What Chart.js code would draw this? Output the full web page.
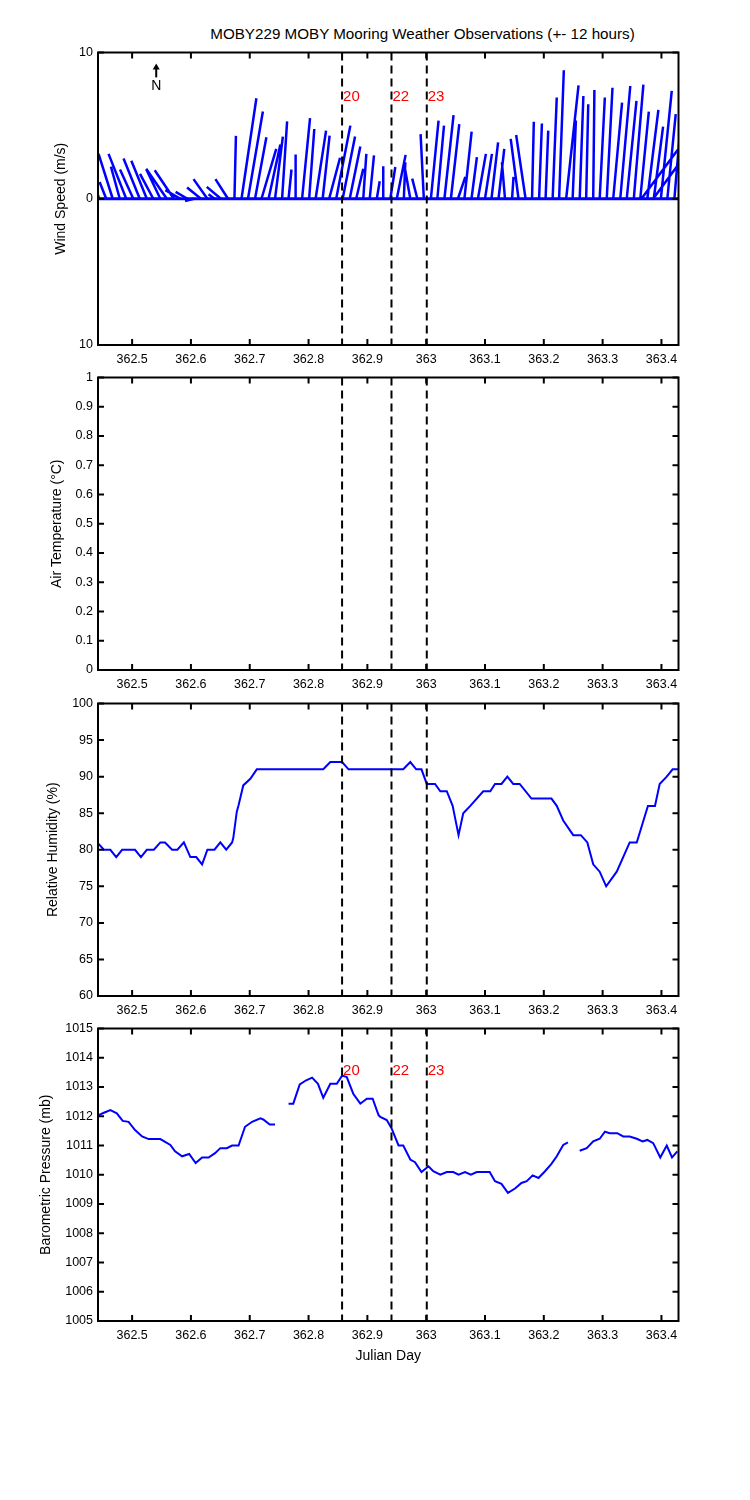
<!DOCTYPE html>
<html>
<head>
<meta charset="utf-8">
<title>MOBY229 MOBY Mooring Weather Observations</title>
<script src="https://cdn.jsdelivr.net/npm/chart.js@4.4.1/dist/chart.umd.min.js"></script>
<style>
  html, body { margin:0; padding:0; background:#ffffff; }
  body { width:750px; height:1500px; position:relative; overflow:hidden; }
  canvas { position:absolute; left:0; }
  #title { position:absolute; left:0; top:25px; width:845px; text-align:center;
           font-family:"Liberation Sans", Arial, sans-serif; font-size:15.2px; line-height:18px;
           color:#000; white-space:nowrap; }
</style>
</head>
<body>
<div id="title">MOBY229 MOBY Mooring Weather Observations (+- 12 hours)</div>
<canvas id="wind"></canvas>
<canvas id="air"></canvas>
<canvas id="rh"></canvas>
<canvas id="press"></canvas>
<script>
// ---------------- data ----------------
const xMin = 362.442;
const xMax = 363.429;
const xTickStep = 0.1;

const markerTimes  = [362.857, 362.941, 363.001];
const markerLabels = ['20', '22', '23'];

// wind sticks: time (Julian day), east (u) and north (v) components, m/s
const windTime = [
  362.444, 362.456, 362.467, 362.479, 362.490, 362.502, 362.513, 362.525, 362.536, 362.548,
  362.559, 362.571, 362.582, 362.594, 362.605, 362.617, 362.628, 362.640, 362.651, 362.663,
  362.674, 362.686, 362.697, 362.709, 362.720, 362.732, 362.743, 362.755, 362.766, 362.778,
  362.789, 362.801, 362.812, 362.824, 362.835, 362.847, 362.858, 362.870, 362.881, 362.893,
  362.904, 362.916, 362.927, 362.939, 362.950, 362.962, 362.973, 362.985, 362.996, 363.008,
  363.019, 363.031, 363.042, 363.054, 363.065, 363.077, 363.088, 363.100, 363.111, 363.123,
  363.134, 363.146, 363.157, 363.169, 363.180, 363.192, 363.203, 363.215, 363.226, 363.238,
  363.249, 363.261, 363.272, 363.284, 363.295, 363.307, 363.318, 363.330, 363.341, 363.353,
  363.364, 363.366, 363.376, 363.386, 363.387, 363.399, 363.410, 363.422
];
const windU = [
  -0.8, -0.45, -0.96, -0.6, -1.2, -0.9, -1.1, -1.05, -0.9, -0.95,
  -1.4, -1.3, -1.02, -0.8, -0.6, -0.94, -0.94, -0.4, -0.96, -0.85,
  0.1, 1.01, 1.01, 0.77, 1.0, 0.8, 0.53, 0.34, 0.2, 0.0,
  0.54, 0.35, 0.71, 0.47, 0.74, 0.96, 0.84, 0.72, 0.48, 0.21,
  0.29, 0.2, 0.0, 0.34, 0.6, 0.1, -0.36, -0.35, -0.22, 0.52,
  0.45, 0.62, 0.57, 0.5, 0.49, 0.37, 0.54, 0.47, 0.45, 0.39,
  -0.21, 0.1, -0.53, -0.64, 0.12, 0.19, 0.18, 0.28, 0.32, 0.84,
  0.22, 0.25, 0.14, 0.08, 0.35, 0.39, 0.6, 0.68, 0.66, 0.65,
  0.58, 2.48, 0.75, 1.9, 0.63, 0.74, 0.57, 0.35
];
const windV = [
  2.4, 1.15, 3.07, 2.2, 3.07, 2.0, 2.75, 2.6, 1.7, 2.0,
  2.05, 1.95, 0.59, 0.47, -0.15, 0.77, 1.34, 0.3, 0.81, 1.34,
  4.3, 6.87, 5.97, 4.2, 3.41, 3.7, 4.25, 5.29, 2.0, 3.03,
  5.51, 4.77, 4.66, 4.32, 2.8, 5.0, 4.25, 3.57, 2.05, 3.07,
  2.96, 1.2, 2.22, 2.17, 3.0, 2.5, 2.05, 1.38, 4.42, 5.34,
  5.0, 5.72, 5.1, 1.5, 4.59, 2.85, 3.07, 3.07, 3.86, 3.41,
  2.5, 1.5, 4.09, 4.36, 5.27, 5.15, 4.66, 6.92, 8.79, 7.75,
  5.36, 7.03, 6.46, 7.44, 6.92, 7.59, 6.58, 7.71, 6.69, 7.8,
  5.95, 3.36, 6.08, 2.6, 4.93, 7.37, 5.78, 4.2
];

// air temperature: no observations in this window
const airTime  = [];
const airValue = [];

// relative humidity (%)
const rhTime = [
  362.443, 362.452, 362.463, 362.473, 362.483, 362.505, 362.515, 362.525, 362.537, 362.548,
  362.556, 362.568, 362.577, 362.588, 362.599, 362.609, 362.619, 362.628, 362.640, 362.650,
  362.660, 362.670, 362.672, 362.678, 362.681, 362.689, 362.701, 362.712, 362.825, 362.837,
  362.857, 362.868, 362.961, 362.973, 362.983, 362.992, 363.001, 363.015, 363.024, 363.035,
  363.045, 363.055, 363.063, 363.075, 363.097, 363.109, 363.117, 363.128, 363.138, 363.148,
  363.159, 363.179, 363.213, 363.222, 363.233, 363.250, 363.263, 363.274, 363.284, 363.295,
  363.306, 363.324, 363.346, 363.358, 363.377, 363.389, 363.397, 363.409, 363.419, 363.428
];
const rhValue = [
  80.8, 80, 80, 79, 80, 80, 79, 80, 80, 81,
  81, 80, 80, 81, 79, 79, 78, 80, 80, 81,
  80, 81, 81.6, 85.2, 86.1, 88.8, 89.7, 91, 91, 92,
  92, 91, 91, 92, 91, 91, 89, 89, 88, 88,
  86, 82, 85, 86, 88, 88, 89, 89, 90, 89,
  89, 87, 87, 86, 84, 82, 82, 81, 78, 77,
  75, 77, 81, 81, 86, 86, 89, 90, 91, 91
];

// barometric pressure (mb); null marks a data gap
const pressTime = [
  362.443, 362.452, 362.463, 362.474, 362.484, 362.494, 362.505, 362.517, 362.528, 362.548,
  362.565, 362.573, 362.585, 362.597, 362.608, 362.619, 362.630, 362.641, 362.650, 362.661,
  362.670, 362.681, 362.692, 362.704, 362.718, 362.723, 362.734, 362.743, 362.755, 362.766,
  362.774, 362.785, 362.796, 362.806, 362.816, 362.825, 362.837, 362.848, 362.857, 362.865,
  362.876, 362.888, 362.899, 362.909, 362.919, 362.922, 362.933, 362.941, 362.953, 362.961,
  362.973, 362.981, 362.992, 363.004, 363.012, 363.024, 363.035, 363.046, 363.055, 363.066,
  363.076, 363.086, 363.108, 363.117, 363.128, 363.139, 363.151, 363.162, 363.171, 363.181,
  363.191, 363.202, 363.213, 363.222, 363.233, 363.241, 363.251, 363.261, 363.273, 363.284,
  363.295, 363.304, 363.312, 363.325, 363.335, 363.346, 363.358, 363.368, 363.376, 363.386,
  363.398, 363.409, 363.418, 363.427
];
const pressValue = [
  1012.04, 1012.12, 1012.21, 1012.10, 1011.84, 1011.81, 1011.53, 1011.31, 1011.22, 1011.22,
  1011.02, 1010.80, 1010.63, 1010.71, 1010.40, 1010.59, 1010.59, 1010.74, 1010.91, 1010.91,
  1011.00, 1011.00, 1011.64, 1011.81, 1011.93, 1011.89, 1011.72, 1011.72, null, 1012.43,
  1012.43, 1013.09, 1013.23, 1013.32, 1013.11, 1012.63, 1013.11, 1013.11, 1013.39, 1013.34,
  1012.77, 1012.43, 1012.60, 1012.60, 1012.04, 1011.98, 1011.87, 1011.59, 1011.00, 1011.00,
  1010.52, 1010.43, 1010.09, 1010.29, 1010.12, 1010.00, 1010.09, 1010.09, 1010.00, 1010.09,
  1010.00, 1010.09, 1010.09, 1009.78, 1009.69, 1009.38, 1009.53, 1009.72, 1009.78, 1009.98,
  1009.89, 1010.12, 1010.37, 1010.63, 1011.02, 1011.11, null, 1010.82, 1010.91, 1011.14,
  1011.23, 1011.47, 1011.42, 1011.42, 1011.31, 1011.31, 1011.23, 1011.14, 1011.19, 1011.08,
  1010.59, 1011.00, 1010.59, 1010.80
];

// north arrow position (time, wind-speed units) and marker label heights
const northTime = 362.541, northTail = 8.3, northTip = 9.25, northLabel = 7.7;
const windMarkerLabelY = 7.0;
const pressMarkerLabelY = 1013.55;

// ---------------- drawing ----------------
const FONT = '"Liberation Sans", Arial, Helvetica, sans-serif';
Chart.defaults.font.family = FONT;
Chart.defaults.color = '#000';
const BLUE = '#0000ff';
// horizontal days per m/s so that sticks keep true direction on screen
const STICK_DAYS_PER_MS = 0.02506;

const fmt1 = v => String(Math.round(v * 10) / 10);

const framePlugin = {
  id: 'frame',
  afterDatasetsDraw(chart) {
    const { ctx, chartArea: a, scales } = chart;
    const xs = scales.x, ys = scales.y, L = 6;
    ctx.save();
    ctx.strokeStyle = '#000';
    ctx.lineWidth = 2;
    ctx.beginPath();
    xs.ticks.forEach(t => {
      const p = xs.getPixelForValue(t.value);
      ctx.moveTo(p, a.bottom); ctx.lineTo(p, a.bottom - L);
      ctx.moveTo(p, a.top); ctx.lineTo(p, a.top + L);
    });
    ys.ticks.forEach(t => {
      const p = ys.getPixelForValue(t.value);
      ctx.moveTo(a.left, p); ctx.lineTo(a.left + L, p);
      ctx.moveTo(a.right, p); ctx.lineTo(a.right - L, p);
    });
    ctx.stroke();
    ctx.strokeRect(a.left, a.top, a.right - a.left, a.bottom - a.top);
    ctx.restore();
  }
};

const markerTextPlugin = {
  id: 'markerText',
  afterDatasetsDraw(chart, args, opts) {
    if (!opts || opts.y == null) return;
    const { ctx, scales } = chart;
    ctx.save();
    ctx.fillStyle = '#ff0000';
    ctx.font = '15px ' + FONT;
    ctx.textAlign = 'left';
    ctx.textBaseline = 'middle';
    markerTimes.forEach((t, i) => {
      ctx.fillText(markerLabels[i], scales.x.getPixelForValue(t) + 1, scales.y.getPixelForValue(opts.y));
    });
    ctx.restore();
  }
};

const northPlugin = {
  id: 'north',
  afterDatasetsDraw(chart, args, opts) {
    if (!opts || !opts.show) return;
    const { ctx, scales } = chart;
    const px = scales.x.getPixelForValue(northTime);
    const y0 = scales.y.getPixelForValue(northTail);
    const y1 = scales.y.getPixelForValue(northTip);
    const yl = scales.y.getPixelForValue(northLabel);
    ctx.save();
    ctx.strokeStyle = '#000'; ctx.fillStyle = '#000'; ctx.lineWidth = 2;
    ctx.beginPath(); ctx.moveTo(px, y0); ctx.lineTo(px, y1 + 4); ctx.stroke();
    ctx.beginPath(); ctx.moveTo(px, y1); ctx.lineTo(px - 3.5, y1 + 6); ctx.lineTo(px + 3.5, y1 + 6); ctx.closePath(); ctx.fill();
    ctx.font = '14px ' + FONT; ctx.textAlign = 'center'; ctx.textBaseline = 'middle';
    ctx.fillText('N', px, yl);
    ctx.restore();
  }
};

function markerDatasets(yLo, yHi) {
  return markerTimes.map(t => ({
    data: [{ x: t, y: yHi }, { x: t, y: yLo }],
    borderColor: '#000', borderWidth: 2, borderDash: [8, 5], pointRadius: 0
  }));
}

const AREA_H = 295;
const AREA_LEFT = 98;
const AREA_RIGHT = 678.5;

function makePanel(id, top, height, areaTop, y, datasets, extra) {
  const cv = document.getElementById(id);
  cv.width = 750; cv.height = height; cv.style.top = top + 'px';
  const xAxisH = height - (areaTop - top) - AREA_H;
  return new Chart(cv, {
    type: 'line',
    data: { datasets },
    options: {
      responsive: false, animation: false, devicePixelRatio: 1, events: [],
      layout: { padding: { top: areaTop - top, right: 750 - AREA_RIGHT, bottom: 0, left: 0 } },
      elements: { point: { radius: 0 }, line: { tension: 0, fill: false } },
      spanGaps: false,
      plugins: {
        legend: { display: false }, tooltip: { enabled: false }, title: { display: false },
        markerText: extra.markerText || {}, north: extra.north || {}
      },
      scales: {
        x: {
          type: 'linear', min: xMin, max: xMax,
          grid: { display: false, drawTicks: false }, border: { display: false },
          ticks: { stepSize: xTickStep, includeBounds: false, autoSkip: false, maxRotation: 0, minRotation: 0,
                   padding: 7, font: { size: 12.5 }, callback: v => fmt1(v) },
          title: extra.xTitle ? { display: true, text: 'Julian Day', font: { size: 14 },
                                  padding: { top: extra.xTitle - 8.4, bottom: extra.xTitle - 8.4 } } : { display: false },
          afterFit: s => { s.height = xAxisH; }
        },
        y: {
          type: 'linear', min: y.min, max: y.max,
          grid: { display: false, drawTicks: false }, border: { display: false },
          ticks: { stepSize: y.step, autoSkip: false, padding: 5, font: { size: 12.5 }, callback: y.cb },
          title: { display: true, text: y.title, font: { size: 14 }, padding: { top: y.titleX - 8.4, bottom: 0 } },
          afterFit: s => { s.width = AREA_LEFT; }
        }
      }
    },
    plugins: [framePlugin, markerTextPlugin, northPlugin]
  });
}

// panel 1: wind sticks
const stickPts = [];
windTime.forEach((t, i) => {
  stickPts.push({ x: t, y: 0 }, { x: t + windU[i] * STICK_DAYS_PER_MS, y: windV[i] }, { x: t, y: null });
});
makePanel('wind', 40, 335, 50,
  { min: -10, max: 10, step: 10, cb: v => String(Math.abs(v)), title: 'Wind Speed (m/s)', titleX: 61 },
  [
    ...markerDatasets(-10, 10),
    { data: stickPts, borderColor: BLUE, borderWidth: 2.5, pointRadius: 0, spanGaps: false },
    { data: [{ x: xMin, y: 0 }, { x: xMax, y: 0 }], borderColor: BLUE, borderWidth: 3, pointRadius: 0 }
  ],
  { markerText: { y: windMarkerLabelY }, north: { show: true } });

// panel 2: air temperature
makePanel('air', 365, 335, 375,
  { min: 0, max: 1, step: 0.1, cb: v => fmt1(v), title: 'Air Temperature (\u00B0C)', titleX: 57 },
  [
    ...markerDatasets(0, 1),
    { data: airTime.map((t, i) => ({ x: t, y: airValue[i] })), borderColor: BLUE, borderWidth: 2, pointRadius: 0 }
  ],
  {});

// panel 3: relative humidity
makePanel('rh', 691, 335, 701,
  { min: 60, max: 100, step: 5, cb: v => String(v), title: 'Relative Humidity (%)', titleX: 53 },
  [
    ...markerDatasets(60, 100),
    { data: rhTime.map((t, i) => ({ x: t, y: rhValue[i] })), borderColor: BLUE, borderWidth: 2, pointRadius: 0 }
  ],
  {});

// panel 4: barometric pressure
makePanel('press', 1016, 375, 1026,
  { min: 1005, max: 1015, step: 1, cb: v => String(v), title: 'Barometric Pressure (mb)', titleX: 46 },
  [
    ...markerDatasets(1005, 1015),
    { data: pressTime.map((t, i) => ({ x: t, y: pressValue[i] })), borderColor: BLUE, borderWidth: 2, pointRadius: 0, spanGaps: false }
  ],
  { markerText: { y: pressMarkerLabelY }, xTitle: 35 });
</script>
</body>
</html>
